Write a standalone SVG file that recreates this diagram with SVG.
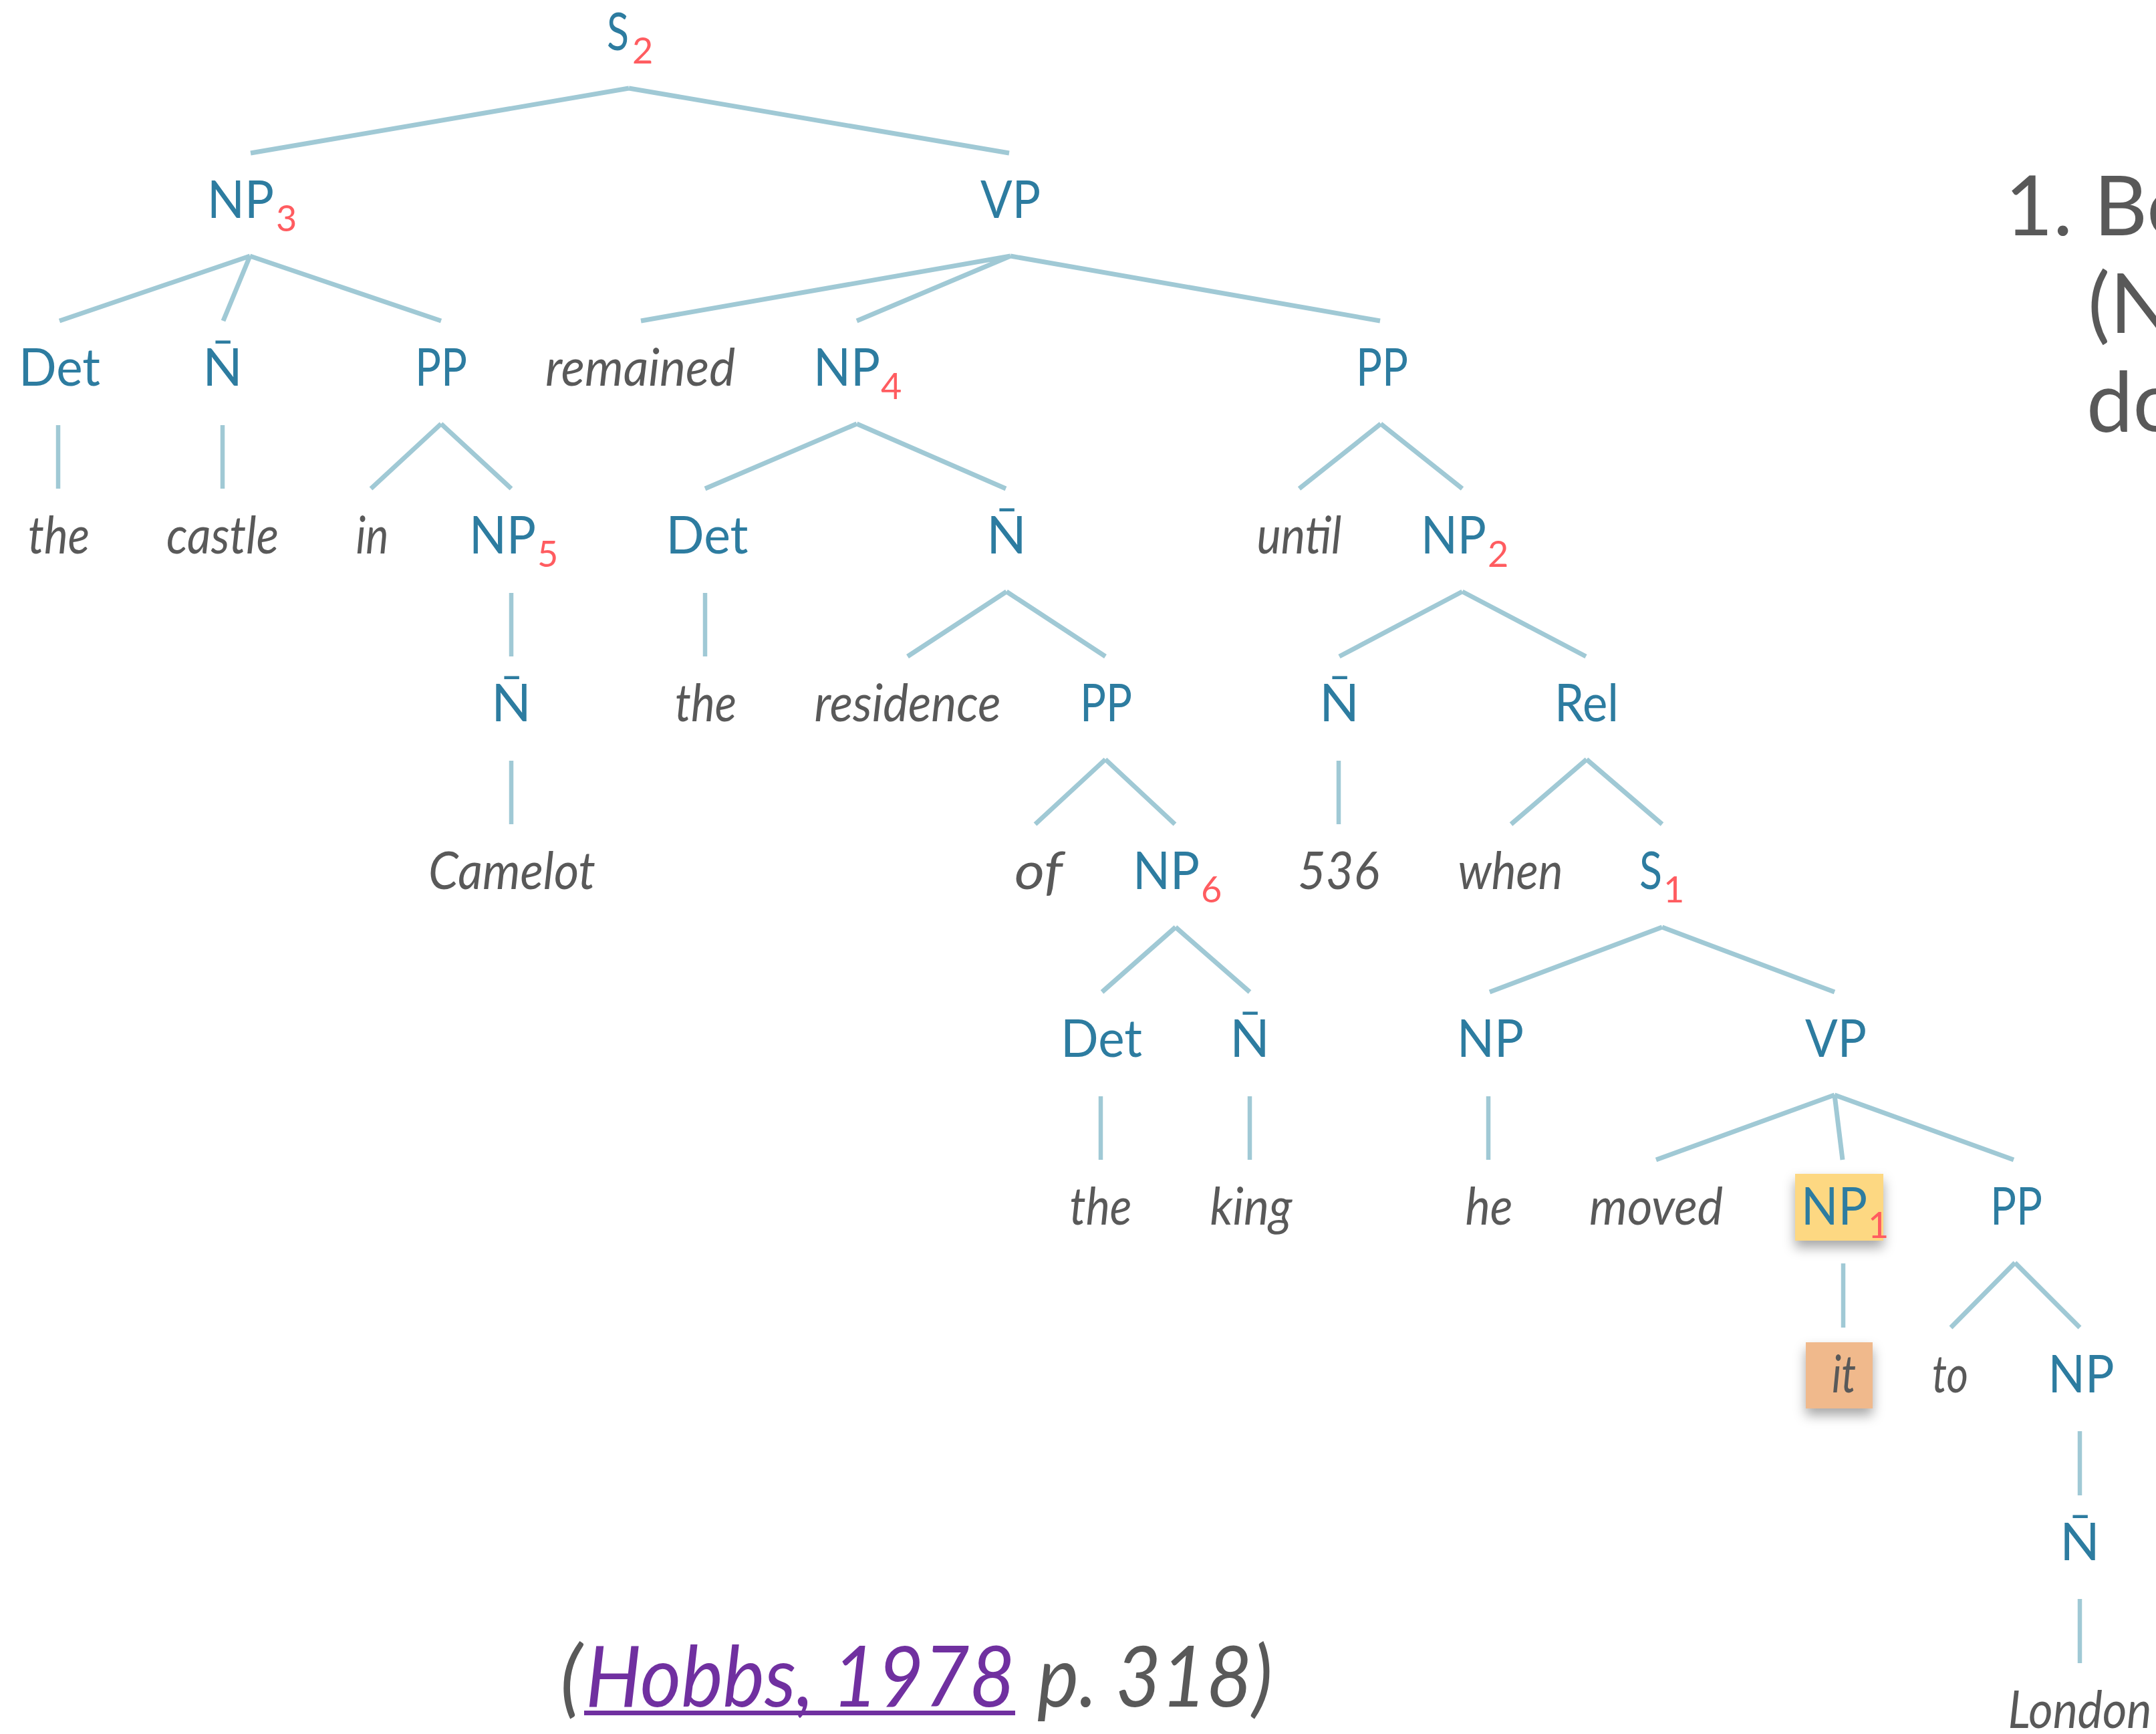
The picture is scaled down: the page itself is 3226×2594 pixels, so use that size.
<svg xmlns="http://www.w3.org/2000/svg" width="3226" height="2594" viewBox="0 0 3226 2594">
<style>
.lbl{font-family:Lato,"Open Sans","Liberation Sans",sans-serif;font-size:78px;fill:#2d7ca0}
.sub{font-family:Lato,"Open Sans","Liberation Sans",sans-serif;font-size:54px;fill:#ff5c60}
.wd{font-family:Lato,"Open Sans","Liberation Sans",sans-serif;font-size:78px;font-style:italic;fill:#595959}
.big{font-family:Lato,"Open Sans","Liberation Sans",sans-serif;font-size:124px;fill:#595959}
.cit{font-family:Lato,"Open Sans","Liberation Sans",sans-serif;font-size:126px;font-style:italic;fill:#595959}
.m{text-anchor:middle}
.br{stroke:#a0c9d5;stroke-width:7;fill:none}
.vt{stroke:#a0c9d5;stroke-width:6.5;fill:none}
</style>
<defs>
<filter id="sh" x="-30%" y="-30%" width="160%" height="180%">
<feDropShadow dx="0" dy="10" stdDeviation="9" flood-color="#000" flood-opacity="0.35"/>
</filter>
</defs>
<rect width="3226" height="2594" fill="#fff"/>
<g id="connectors">
<path class="br" d="M941 132L375 229M941 132L1510 229"/>
<path class="br" d="M374 383L89 480M374 383L334 480M374 383L660 480M1512 383L959 480M1512 383L1282 480M1512 383L2065 480"/>
<path class="br" d="M660 634L555 731M660 634L765 731M1282 634L1055 731M1282 634L1505 731M2066 634L1944 731M2066 634L2188 731"/>
<path class="vt" d="M87 636V731M333 636V731"/>
<path class="br" d="M1506 885L1358 982M1506 885L1654 982M2188 885L2004 982M2188 885L2373 982"/>
<path class="vt" d="M765 887V982M1055 887V982"/>
<path class="br" d="M1654 1136L1549 1233M1654 1136L1758 1233M2374 1136L2261 1233M2374 1136L2487 1233"/>
<path class="vt" d="M765 1138V1233M2003 1138V1233"/>
<path class="br" d="M1759 1387L1649 1484M1759 1387L1870 1484M2487 1387L2229 1484M2487 1387L2745 1484"/>
<path class="br" d="M2745 1638L2478 1735M2745 1638L2757 1735M2745 1638L3013 1735"/>
<path class="vt" d="M1647 1640V1735M1870 1640V1735M2227 1640V1735"/>
<path class="br" d="M3015 1889L2919 1986M3015 1889L3112 1986"/>
<path class="vt" d="M2758 1890V1986"/>
<path class="vt" d="M3112 2141V2237"/>
<path class="vt" d="M3112 2392V2488"/>
</g>
<g id="S2"><text class="lbl" x="908" y="75" textLength="33" lengthAdjust="spacingAndGlyphs">S</text><text class="sub" x="946" y="95">2</text></g>
<g id="NP3"><text class="lbl" x="310" y="326" textLength="100" lengthAdjust="spacingAndGlyphs">NP</text><text class="sub" x="413" y="346">3</text></g>
<g id="VP"><text class="lbl m" x="1512" y="326" textLength="90" lengthAdjust="spacingAndGlyphs">VP</text></g>
<g id="Det1"><text class="lbl m" x="89" y="577" textLength="122" lengthAdjust="spacingAndGlyphs">Det</text></g>
<g id="Nbar1"><text class="lbl m" x="333" y="577">N̄</text></g>
<g id="PP1"><text class="lbl m" x="660" y="577" textLength="78" lengthAdjust="spacingAndGlyphs">PP</text></g>
<g id="remained"><text class="wd m" x="958" y="577" textLength="284" lengthAdjust="spacingAndGlyphs">remained</text></g>
<g id="NP4"><text class="lbl" x="1217" y="577" textLength="100" lengthAdjust="spacingAndGlyphs">NP</text><text class="sub" x="1318" y="597">4</text></g>
<g id="PP2"><text class="lbl m" x="2068" y="577" textLength="78" lengthAdjust="spacingAndGlyphs">PP</text></g>
<g id="the1"><text class="wd m" x="88" y="828" textLength="92" lengthAdjust="spacingAndGlyphs">the</text></g>
<g id="castle"><text class="wd m" x="333" y="828" textLength="168" lengthAdjust="spacingAndGlyphs">castle</text></g>
<g id="in"><text class="wd m" x="557" y="828" textLength="49" lengthAdjust="spacingAndGlyphs">in</text></g>
<g id="NP5"><text class="lbl" x="702" y="828" textLength="100" lengthAdjust="spacingAndGlyphs">NP</text><text class="sub" x="804" y="848">5</text></g>
<g id="Det2"><text class="lbl m" x="1058" y="828" textLength="123" lengthAdjust="spacingAndGlyphs">Det</text></g>
<g id="Nbar2"><text class="lbl m" x="1506" y="828">N̄</text></g>
<g id="until"><text class="wd m" x="1944" y="828" textLength="127" lengthAdjust="spacingAndGlyphs">until</text></g>
<g id="NP2"><text class="lbl" x="2126" y="828" textLength="98" lengthAdjust="spacingAndGlyphs">NP</text><text class="sub" x="2226" y="848">2</text></g>
<g id="Nbar3"><text class="lbl m" x="765" y="1079">N̄</text></g>
<g id="the2"><text class="wd m" x="1056" y="1079" textLength="92" lengthAdjust="spacingAndGlyphs">the</text></g>
<g id="residence"><text class="wd m" x="1358" y="1079" textLength="279" lengthAdjust="spacingAndGlyphs">residence</text></g>
<g id="PP3"><text class="lbl m" x="1655" y="1079" textLength="78" lengthAdjust="spacingAndGlyphs">PP</text></g>
<g id="Nbar4"><text class="lbl m" x="2004" y="1079">N̄</text></g>
<g id="Rel"><text class="lbl m" x="2374" y="1079" textLength="96" lengthAdjust="spacingAndGlyphs">Rel</text></g>
<g id="Camelot"><text class="wd m" x="766" y="1330" textLength="250" lengthAdjust="spacingAndGlyphs">Camelot</text></g>
<g id="of"><text class="wd m" x="1554" y="1330" textLength="72" lengthAdjust="spacingAndGlyphs">of</text></g>
<g id="NP6"><text class="lbl" x="1695" y="1330" textLength="100" lengthAdjust="spacingAndGlyphs">NP</text><text class="sub" x="1797" y="1350">6</text></g>
<g id="n536"><text class="wd m" x="2003" y="1330" textLength="122" lengthAdjust="spacingAndGlyphs">536</text></g>
<g id="when"><text class="wd m" x="2260" y="1330" textLength="157" lengthAdjust="spacingAndGlyphs">when</text></g>
<g id="S1"><text class="lbl" x="2453" y="1330" textLength="34" lengthAdjust="spacingAndGlyphs">S</text><text class="sub" x="2489" y="1350">1</text></g>
<g id="Det3"><text class="lbl m" x="1648" y="1581" textLength="122" lengthAdjust="spacingAndGlyphs">Det</text></g>
<g id="Nbar5"><text class="lbl m" x="1870" y="1581">N̄</text></g>
<g id="NP7"><text class="lbl m" x="2230" y="1581" textLength="100" lengthAdjust="spacingAndGlyphs">NP</text></g>
<g id="VP2"><text class="lbl m" x="2747" y="1581" textLength="92" lengthAdjust="spacingAndGlyphs">VP</text></g>
<g id="the3"><text class="wd m" x="1647" y="1832" textLength="93" lengthAdjust="spacingAndGlyphs">the</text></g>
<g id="king"><text class="wd m" x="1872" y="1832" textLength="123" lengthAdjust="spacingAndGlyphs">king</text></g>
<g id="he"><text class="wd m" x="2228" y="1832" textLength="71" lengthAdjust="spacingAndGlyphs">he</text></g>
<g id="moved"><text class="wd m" x="2478" y="1832" textLength="200" lengthAdjust="spacingAndGlyphs">moved</text></g>
<g id="NP1"><rect x="2686" y="1756" width="132" height="100" fill="#fdd882" filter="url(#sh)"/><text class="lbl" x="2695" y="1832" textLength="99" lengthAdjust="spacingAndGlyphs">NP</text><text class="sub" x="2795" y="1852">1</text></g>
<g id="PP4"><text class="lbl m" x="3017" y="1832" textLength="78" lengthAdjust="spacingAndGlyphs">PP</text></g>
<g id="it"><rect x="2702" y="2008" width="100" height="99" fill="#f0b98c" filter="url(#sh)"/><text class="wd m" x="2759" y="2083" textLength="36" lengthAdjust="spacingAndGlyphs">it</text></g>
<g id="to"><text class="wd m" x="2918" y="2083" textLength="54" lengthAdjust="spacingAndGlyphs">to</text></g>
<g id="NP8"><text class="lbl m" x="3114" y="2083" textLength="99" lengthAdjust="spacingAndGlyphs">NP</text></g>
<g id="Nbar6"><text class="lbl m" x="3112" y="2334">N̄</text></g>
<g id="London"><text class="wd m" x="3112" y="2585" textLength="215" lengthAdjust="spacingAndGlyphs">London</text></g>
<g id="step"><text class="big" x="3000" y="352">1. Be</text><text class="big" x="3124" y="498">(N</text><text class="big" x="3122" y="645">do</text></g>
<g id="citation"><text class="cit" x="838" y="2553">(</text><text class="cit" x="876" y="2553" style="fill:#7030a0" textLength="643" lengthAdjust="spacingAndGlyphs">Hobbs, 1978</text><rect x="874" y="2559" width="645" height="7" fill="#7030a0"/><text class="cit" x="1552" y="2553" textLength="352" lengthAdjust="spacingAndGlyphs">p. 318)</text></g>
</svg>
